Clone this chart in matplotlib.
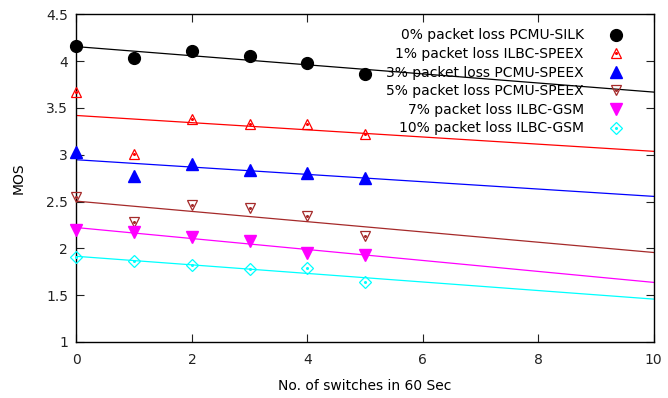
import numpy as np
import matplotlib
matplotlib.use("Agg")
import matplotlib.pyplot as plt
from matplotlib.lines import Line2D
from matplotlib.legend_handler import HandlerTuple

# Measured MOS per number of switches
switches = [0, 1, 2, 3, 4, 5]
labels = [
    "0% packet loss PCMU-SILK",
    "1% packet loss ILBC-SPEEX",
    "3% packet loss PCMU-SPEEX",
    "5% packet loss PCMU-SPEEX",
    "7% packet loss ILBC-GSM",
    "10% packet loss ILBC-GSM",
]
mos_0 = [4.16, 4.03, 4.11, 4.06, 3.98, 3.86]
mos_1 = [3.67, 3.01, 3.38, 3.33, 3.33, 3.22]
mos_3 = [3.03, 2.77, 2.90, 2.84, 2.80, 2.75]
mos_5 = [2.55, 2.28, 2.46, 2.43, 2.35, 2.13]
mos_7 = [2.20, 2.17, 2.12, 2.08, 1.95, 1.93]
mos_10 = [1.91, 1.86, 1.82, 1.78, 1.79, 1.64]

series = [mos_0, mos_1, mos_3, mos_5, mos_7, mos_10]
colors = ["#000000", "#ff0000", "#0000ff", "#a52a2a", "#ff00ff", "#00ffff"]
markers = ["o", "^", "^", "v", "v", "D"]
filled = [True, False, True, False, True, False]
msizes = [8.5, 7.8, 8.2, 7.8, 8.2, 6.0]

plt.rcParams["font.family"] = ["DejaVu Sans"]
fig = plt.figure(figsize=(6.68, 3.98), dpi=100)
ax = fig.add_axes([0.1145, 0.141, 0.864, 0.823])

fit_x = np.linspace(0, 10, 50)
handles = []
for ys, c, m, f, ms in zip(series, colors, markers, filled, msizes):
    slope, icpt = np.polyfit(switches, ys, 1)
    ax.plot(fit_x, slope * fit_x + icpt, color=c, lw=0.9, zorder=2)
    if f:
        ax.plot(switches, ys, ls="none", marker=m, ms=ms, mfc=c, mec=c,
                clip_on=False, zorder=3)
        h = Line2D([], [], ls="none", marker=m, ms=ms, mfc=c, mec=c)
    else:
        ax.plot(switches, ys, ls="none", marker=m, ms=ms, mfc="none", mec=c,
                mew=0.9, clip_on=False, zorder=3)
        ax.plot(switches, ys, ls="none", marker="o", ms=1.2, mfc=c, mec=c,
                clip_on=False, zorder=3)
        h = (Line2D([], [], ls="none", marker=m, ms=ms, mfc="none", mec=c, mew=0.9),
             Line2D([], [], ls="none", marker="o", ms=1.2, mfc=c, mec=c))
    handles.append(h)

ax.set_xlim(0, 10)
ax.set_ylim(1, 4.5)
ax.set_xticks(range(0, 11, 2))
ax.set_yticks(np.arange(1, 4.51, 0.5))
ax.set_yticklabels(["1", "1.5", "2", "2.5", "3", "3.5", "4", "4.5"])
ax.tick_params(direction="in", length=6, width=0.8, top=True, right=True,
               labelsize=10, colors="#222222", pad=6)
ax.tick_params(axis="x", pad=8)
for s in ax.spines.values():
    s.set_linewidth(1.0)

ax.set_xlabel("No. of switches in 60 Sec", fontsize=10, labelpad=9)
ax.set_ylabel("MOS", fontsize=10, labelpad=15)

leg = ax.legend(handles, labels, loc="upper right", frameon=False,
                markerfirst=False, fontsize=10, handlelength=1.5,
                handletextpad=1.6, labelspacing=0.33,
                bbox_to_anchor=(0.975, 0.995),
                handler_map={tuple: HandlerTuple(ndivide=1, pad=0)})
for t in leg.get_texts():
    t.set_ha("right")
leg._legend_box.align = "right"
for vp in leg._legend_box.get_children()[1].get_children():
    vp.align = "right"

fig.savefig("out.png", dpi=100)
